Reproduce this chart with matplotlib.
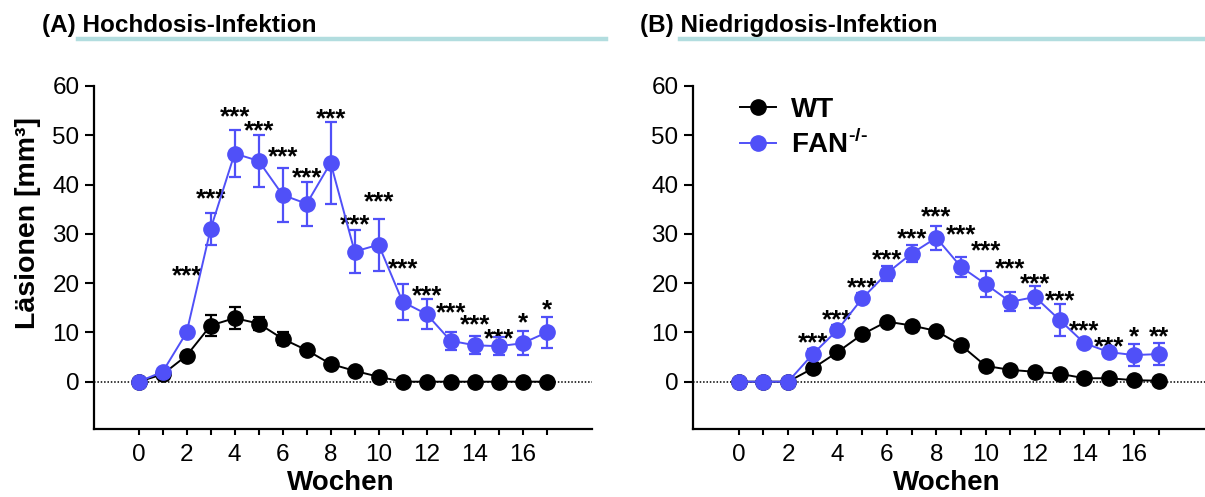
import matplotlib
matplotlib.use("Agg")
import matplotlib.pyplot as plt
import matplotlib.transforms as mtransforms
from matplotlib.lines import Line2D

plt.rcParams['font.family'] = ['Liberation Sans', 'DejaVu Sans']
plt.rcParams['mathtext.fontset'] = 'custom'
plt.rcParams['mathtext.rm'] = 'Liberation Sans:bold'
plt.rcParams['mathtext.bf'] = 'Liberation Sans:bold'

# ---------------- data ----------------
weeks = list(range(18))
x_major = [0, 2, 4, 6, 8, 10, 12, 14, 16]
x_major_labels = ['0', '2', '4', '6', '8', '10', '12', '14', '16']
x_minor = [1, 3, 5, 7, 9, 11, 13, 15, 17]
y_ticks = [0, 10, 20, 30, 40, 50, 60]

titles = ['(A) Hochdosis-Infektion', '(B) Niedrigdosis-Infektion']
series_names = ['WT', 'FAN$^{\\text{-/-}}$']

# High dose (A)
wt_high = [0, 1.5, 5.3, 11.4, 12.9, 11.8, 8.7, 6.4, 3.6, 2.2, 1.0, 0, 0, 0, 0, 0, 0, 0]
wt_high_err = [0, 0.5, 0.6, 2.2, 2.3, 1.3, 1.3, 0.6, 0.5, 0.4, 0.3, 0, 0, 0, 0, 0, 0, 0]
fan_high = [0, 2.0, 10.0, 31.0, 46.3, 44.8, 37.9, 36.1, 44.4, 26.4, 27.8, 16.2, 13.7, 8.3, 7.4, 7.2, 7.8, 10.0]
fan_high_err = [0, 0.5, 0.8, 3.2, 4.7, 5.2, 5.4, 4.5, 8.3, 4.4, 5.3, 3.6, 3.0, 1.8, 1.8, 1.8, 2.4, 3.2]
stars_high = ['', '', '***', '***', '***', '***', '***', '***', '***', '***', '***', '***', '***', '***', '***', '***', '*', '*']
stars_high_y = [0, 0, 22.9, 38.5, 55.1, 52.3, 47.1, 42.8, 54.8, 33.3, 37.9, 24.3, 18.9, 15.4, 13.0, 10.2, 13.4, 16.1]

# Low dose (B)
wt_low = [0, 0, 0, 2.7, 6.0, 9.6, 12.2, 11.4, 10.3, 7.4, 3.2, 2.4, 2.0, 1.6, 0.7, 0.7, 0.3, 0.2]
wt_low_err = [0, 0, 0, 0.4, 0.5, 0.6, 0.6, 0.6, 0.6, 0.6, 0.4, 0.3, 0.3, 0.3, 0.2, 0.2, 0.1, 0.1]
fan_low = [0, 0, 0, 5.6, 10.5, 16.9, 22.0, 26.0, 29.2, 23.3, 19.8, 16.2, 17.2, 12.5, 7.8, 6.0, 5.4, 5.6]
fan_low_err = [0, 0, 0, 1.0, 1.0, 1.0, 1.5, 1.8, 2.4, 2.1, 2.7, 1.9, 2.2, 3.2, 0.8, 0.8, 2.3, 2.3]
stars_low = ['', '', '', '***', '***', '***', '***', '***', '***', '***', '***', '***', '***', '***', '***', '***', '*', '**']
stars_low_y = [0, 0, 0, 9.3, 14.1, 20.6, 26.2, 30.4, 35.0, 31.2, 28.1, 24.3, 21.3, 17.8, 11.8, 8.5, 10.6, 10.6]

BLUE = '#5050F8'
TEAL = '#B2DDDF'

W, H = 1205, 497
fig = plt.figure(figsize=(W / 100, H / 100), dpi=100)


def fx(px):
    return px / W


def fy(py):
    return 1 - py / H


ax_a = fig.add_axes([fx(94), fy(429), fx(592 - 94), (429 - 86) / H])
ax_b = fig.add_axes([fx(693), fy(429), fx(1205 - 693), (429 - 86) / H])

panels = [
    (ax_a, wt_high, wt_high_err, fan_high, fan_high_err, stars_high, stars_high_y, (-1.86, 18.89)),
    (ax_b, wt_low, wt_low_err, fan_low, fan_low_err, stars_low, stars_low_y, (-1.85, 18.88)),
]

for ax, wt, wte, fan, fane, st, sty, xl in panels:
    ax.axhline(0, color='black', ls=(0, (1, 1.2)), lw=1.1, zorder=1)
    ax.errorbar(weeks, wt, yerr=wte, fmt='none', ecolor='black', elinewidth=1.6,
                capsize=4, capthick=1.6, zorder=2)
    ax.plot(weeks, wt, color='black', lw=1.4, marker='o', ms=11, mfc='black',
            mec='black', label=series_names[0], zorder=3)
    ax.errorbar(weeks, fan, yerr=fane, fmt='none', ecolor=BLUE, elinewidth=1.6,
                capsize=4, capthick=1.6, zorder=4)
    ax.plot(weeks, fan, color=BLUE, lw=1.4, marker='o', ms=11, mfc=BLUE,
            mec=BLUE, label=series_names[1], zorder=5)
    fs = 18.5
    trans = mtransforms.offset_copy(ax.transData, fig=fig, y=-0.57 * fs, units='points')
    for xi, s, ys in zip(weeks, st, sty):
        if s:
            ax.text(xi, ys, s, ha='center', va='baseline', fontsize=fs, fontweight='bold',
                    color='black', transform=trans, clip_on=False)

    ax.set_xlim(*xl)
    ax.set_ylim(-9.6, 60)
    ax.set_xticks(x_major)
    ax.set_xticklabels(x_major_labels)
    ax.set_xticks(x_minor, minor=True)
    ax.set_yticks(y_ticks)
    ax.set_yticklabels([str(v) for v in y_ticks])
    for sp in ['top', 'right']:
        ax.spines[sp].set_visible(False)
    for sp in ['left', 'bottom']:
        ax.spines[sp].set_linewidth(1.6)
    ax.spines['left'].set_bounds(-9.6, 60)
    ax.tick_params(axis='x', which='both', length=4, width=1.5, labelsize=17.5, pad=7)
    ax.tick_params(axis='y', which='major', length=6.5, width=1.5, labelsize=17.5, pad=4)
    ax.patch.set_alpha(0)

# legend on panel B
leg = ax_b.legend(loc='upper left', bbox_to_anchor=(fx(740), fy(97)),
                  bbox_transform=fig.transFigure, frameon=False,
                  prop={'weight': 'bold', 'size': 20}, handlelength=1.3,
                  handletextpad=0.55, labelspacing=0.25, borderpad=0, borderaxespad=0)

# titles and teal underlines
fig.text(fx(42), fy(32), titles[0], fontsize=17.5, fontweight='bold', ha='left', va='baseline')
fig.text(fx(640), fy(32), titles[1], fontsize=17.5, fontweight='bold', ha='left', va='baseline')
fig.add_artist(Line2D([fx(78), fx(606)], [fy(38.5), fy(38.5)], color=TEAL, lw=3.2,
                      transform=fig.transFigure))
fig.add_artist(Line2D([fx(680), fx(1205)], [fy(38.5), fy(38.5)], color=TEAL, lw=3.2,
                      transform=fig.transFigure))

# axis labels
fig.text(fx(28), fy(223), 'Läsionen [mm³]', rotation=90, fontsize=20.5, fontweight='bold',
         ha='center', va='center')
fig.text(fx(341), fy(483), 'Wochen', fontsize=20, fontweight='bold', ha='center', va='center')
fig.text(fx(947), fy(483), 'Wochen', fontsize=20, fontweight='bold', ha='center', va='center')

fig.savefig('out.png', dpi=100)
